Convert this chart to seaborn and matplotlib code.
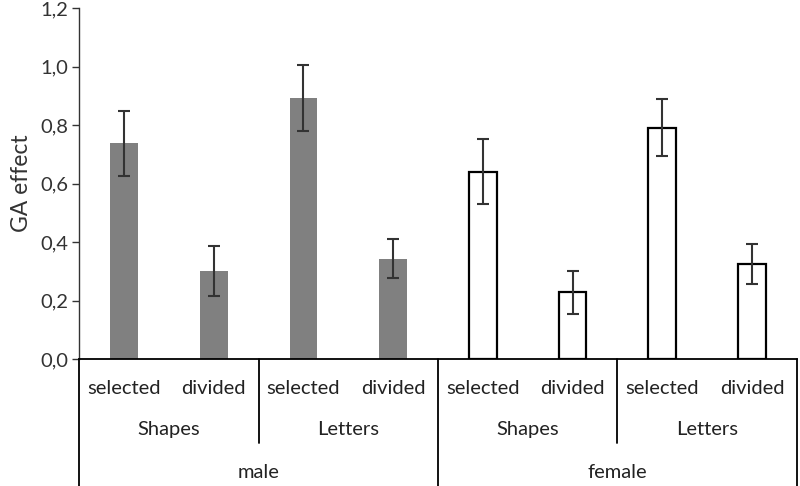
import matplotlib
matplotlib.use("Agg")
import matplotlib.pyplot as plt
import matplotlib.transforms as mtransforms
import seaborn as sns
import pandas as pd
import numpy as np

genders = ["male", "male", "male", "male", "female", "female", "female", "female"]
tasks = ["Shapes", "Shapes", "Letters", "Letters", "Shapes", "Shapes", "Letters", "Letters"]
conditions = ["selected", "divided", "selected", "divided", "selected", "divided", "selected", "divided"]
values = [0.737, 0.301, 0.891, 0.343, 0.640, 0.228, 0.791, 0.324]
errors = [0.112, 0.085, 0.113, 0.067, 0.111, 0.073, 0.098, 0.068]

sns.set_theme(style="white")
plt.rcParams["font.family"] = ["Lato", "DejaVu Sans"]

keys = [f"{g}-{t}-{c}" for g, t, c in zip(genders, tasks, conditions)]
df = pd.DataFrame({"key": keys, "value": values, "gender": genders})

fig = plt.figure(figsize=(8, 4.86), dpi=100)
ax = fig.add_axes([0.099, 0.2613, 0.897, 0.7222])

colors = ["#808080" if g == "male" else "white" for g in genders]
sns.barplot(data=df, x="key", y="value", order=keys, hue="key", palette=colors,
            legend=False, width=0.31, ax=ax, errorbar=None, saturation=1)
for patch, g in zip(ax.patches, genders):
    if g == "female":
        patch.set_edgecolor("black")
        patch.set_linewidth(1.6)
    else:
        patch.set_edgecolor("#808080")
        patch.set_linewidth(0)

ax.errorbar(np.arange(len(keys)), values, yerr=errors, fmt="none",
            ecolor="#333333", elinewidth=1.5, capsize=4.5, capthick=1.5, zorder=5)

ax.set_xlim(-0.5, 7.5)
ax.set_ylim(0, 1.2)
ax.set_yticks(np.arange(0, 1.21, 0.2))
ax.set_yticklabels([f"{v:.1f}".replace(".", ",") for v in np.arange(0, 1.21, 0.2)],
                   fontsize=14.5, color="#333333")
ax.tick_params(axis="y", left=True, length=5, width=1, color="#333333", pad=3)
ax.set_xticks([])
ax.set_xlabel("")
ax.set_ylabel("GA effect", fontsize=16.5, color="#333333", labelpad=6)

for s in ["top", "right"]:
    ax.spines[s].set_visible(False)
ax.spines["left"].set_color("#333333")
ax.spines["bottom"].set_color("black")
ax.spines["left"].set_linewidth(1)
ax.spines["bottom"].set_linewidth(1.3)

trans = mtransforms.blended_transform_factory(ax.transData, ax.transAxes)

fs = 14.5
for i, c in enumerate(conditions):
    ax.text(i, -0.083, c, transform=trans, ha="center", va="center",
            fontsize=fs, color="#222222")
for j in range(4):
    ax.text(2 * j + 0.5, -0.202, tasks[2 * j], transform=trans, ha="center",
            va="center", fontsize=fs, color="#222222")
for k in range(2):
    ax.text(4 * k + 1.5, -0.322, genders[4 * k], transform=trans, ha="center",
            va="center", fontsize=fs, color="#222222")

for xs in [1.5, 5.5]:
    ax.plot([xs, xs], [0, -0.239], transform=trans, color="black", lw=1.3, clip_on=False)
for xs in [-0.5, 3.5, 7.5]:
    ax.plot([xs, xs], [0, -0.37], transform=trans, color="black", lw=1.3, clip_on=False)

fig.savefig("out.png", dpi=100)
